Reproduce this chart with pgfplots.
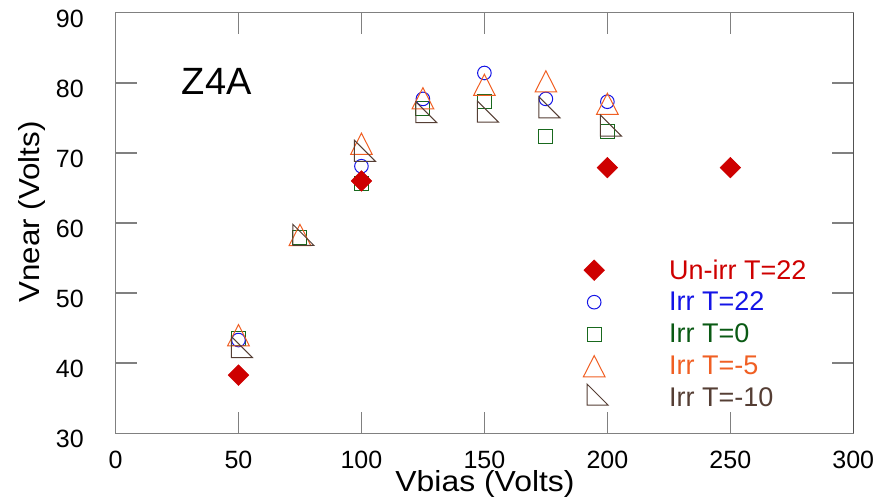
\documentclass[border=0pt]{standalone}
\usepackage{fontspec}
\setmainfont{Liberation Sans}
\usepackage{pgfplots}
\pgfplotsset{compat=1.18}
\definecolor{axgray}{RGB}{128,128,128}
\definecolor{cred}{RGB}{206,0,0}
\definecolor{cblue}{RGB}{20,20,230}
\definecolor{cgreen}{RGB}{10,90,20}
\definecolor{cgreenm}{RGB}{25,105,30}
\definecolor{corange}{RGB}{240,95,35}
\definecolor{cbrown}{RGB}{85,62,52}
\pgfdeclareplotmark{isotri}{%
  \pgfpathmoveto{\pgfqpoint{0pt}{\pgfplotmarksize}}%
  \pgfpathlineto{\pgfqpoint{1.02\pgfplotmarksize}{-\pgfplotmarksize}}%
  \pgfpathlineto{\pgfqpoint{-1.02\pgfplotmarksize}{-\pgfplotmarksize}}%
  \pgfpathclose\pgfusepathqstroke}
\pgfdeclareplotmark{rtri}{%
  \pgfpathmoveto{\pgfqpoint{-\pgfplotmarksize}{2\pgfplotmarksize}}%
  \pgfpathlineto{\pgfqpoint{-\pgfplotmarksize}{-\pgfplotmarksize}}%
  \pgfpathlineto{\pgfqpoint{2\pgfplotmarksize}{-\pgfplotmarksize}}%
  \pgfpathclose\pgfusepathqstroke}
\begin{document}
\begin{tikzpicture}
\begin{axis}[
  at={(0pt,0pt)}, anchor=south west,
  scale only axis, width=737.8pt, height=420.6pt,
  xmin=0, xmax=300, ymin=30, ymax=90,
  xtick={0,50,100,150,200,250,300},
  ytick={30,40,50,60,70,80,90},
  tick align=inside, major tick length=21pt,
  axis line style={draw=axgray, line width=1.5pt},
  tick style={draw=axgray, line width=1.5pt},
  /pgf/number format/assume math mode=true,
  ticklabel style={font=\fontsize{25}{30}\selectfont, inner sep=0pt},
  xticklabel style={anchor=base, yshift=-35pt},
  yticklabel style={anchor=base east, xshift=-31.5pt, yshift=-14.6pt},
  legend style={draw=none, fill=none, inner sep=0pt, row sep=0pt, column sep=0pt,
    at={(axis description cs:0.6323,0.4263)}, anchor=north west,
    font=\fontsize{27}{32}\selectfont, cells={anchor=west}, nodes={inner sep=0pt}},
  legend image code/.code={\draw[#1] plot coordinates {(0pt,0pt)}; \path (-12pt,-16pt) rectangle (75pt,16pt);},
]
% legend images
\addlegendimage{draw=none, mark=square*, mark size=7.3pt, mark options={rotate=45, draw=cred, fill=cred, line width=0.5pt}}
\addlegendentry{\textcolor{cred}{Un-irr T=22}}
\addlegendimage{draw=none, mark=o, mark size=6.8pt, mark options={draw=cblue, line width=1pt}}
\addlegendentry{\textcolor{cblue}{Irr T=22}}
\addlegendimage{draw=none, mark=square, mark size=7pt, mark options={draw=cgreenm, line width=1pt}}
\addlegendentry{\textcolor{cgreen}{Irr T=0}}
\addlegendimage{draw=none, mark=isotri, mark size=10.6pt, mark options={draw=corange, line width=1pt}}
\addlegendentry{\textcolor{corange}{Irr T=-5}}
\addlegendimage{draw=none, mark=rtri, mark size=7pt, mark options={draw=cbrown, line width=1pt}}
\addlegendentry{\textcolor{cbrown}{Irr T=-10}}
% data
\addplot[forget plot, only marks, mark=square, mark size=7pt, mark options={draw=cgreenm, line width=1pt}]
  coordinates {(50,43.5) (75,58.0) (100,65.7) (125,76.3) (150,77.3) (175,72.3) (200,73.1)};
\addplot[forget plot, only marks, mark=o, mark size=6.8pt, mark options={draw=cblue, line width=1pt}]
  coordinates {(50,43.3) (100,68.1) (125,77.7) (150,81.4) (175,77.7) (200,77.3)};
\addplot[forget plot, only marks, mark=isotri, mark size=10.6pt, mark options={draw=corange, line width=1pt}]
  coordinates {(50,44.0) (75,58.3) (100,71.3) (125,77.8) (150,79.7) (175,80.2) (200,77.0)};
\addplot[forget plot, only marks, mark=rtri, mark size=7pt, mark options={draw=cbrown, line width=1pt}]
  coordinates {(50,41.8) (75,57.8) (100,69.8) (125,75.3) (150,75.4) (175,76.0) (200,73.4)};
\addplot[forget plot, only marks, mark=square*, mark size=7.3pt, mark options={rotate=45, draw=cred, fill=cred, line width=0.5pt}]
  coordinates {(50,38.3) (100,66.0) (200,67.9) (250,67.9)};
\draw[black, line width=1pt] (rel axis cs:1,0) -- (rel axis cs:1,1);
\end{axis}
\node[anchor=base west, inner sep=0pt, font=\fontsize{38}{44}\selectfont] at (66.2pt,338.3pt) {Z4A};
\node[anchor=base, inner sep=0pt, font=\fontsize{29}{34}\selectfont] at (369.5pt,-58.5pt) {\scalebox{1.1}[1]{Vbias (Volts)}};
\node[anchor=base, rotate=90, inner sep=0pt, font=\fontsize{29}{34}\selectfont] at (-75.5pt,221.3pt) {\scalebox{1.08}[1]{Vnear (Volts)}};
\pgfresetboundingbox
\path[use as bounding box] (-115.5pt,-68.7pt) rectangle (768.5pt,433.3pt);
\end{tikzpicture}
\end{document}
